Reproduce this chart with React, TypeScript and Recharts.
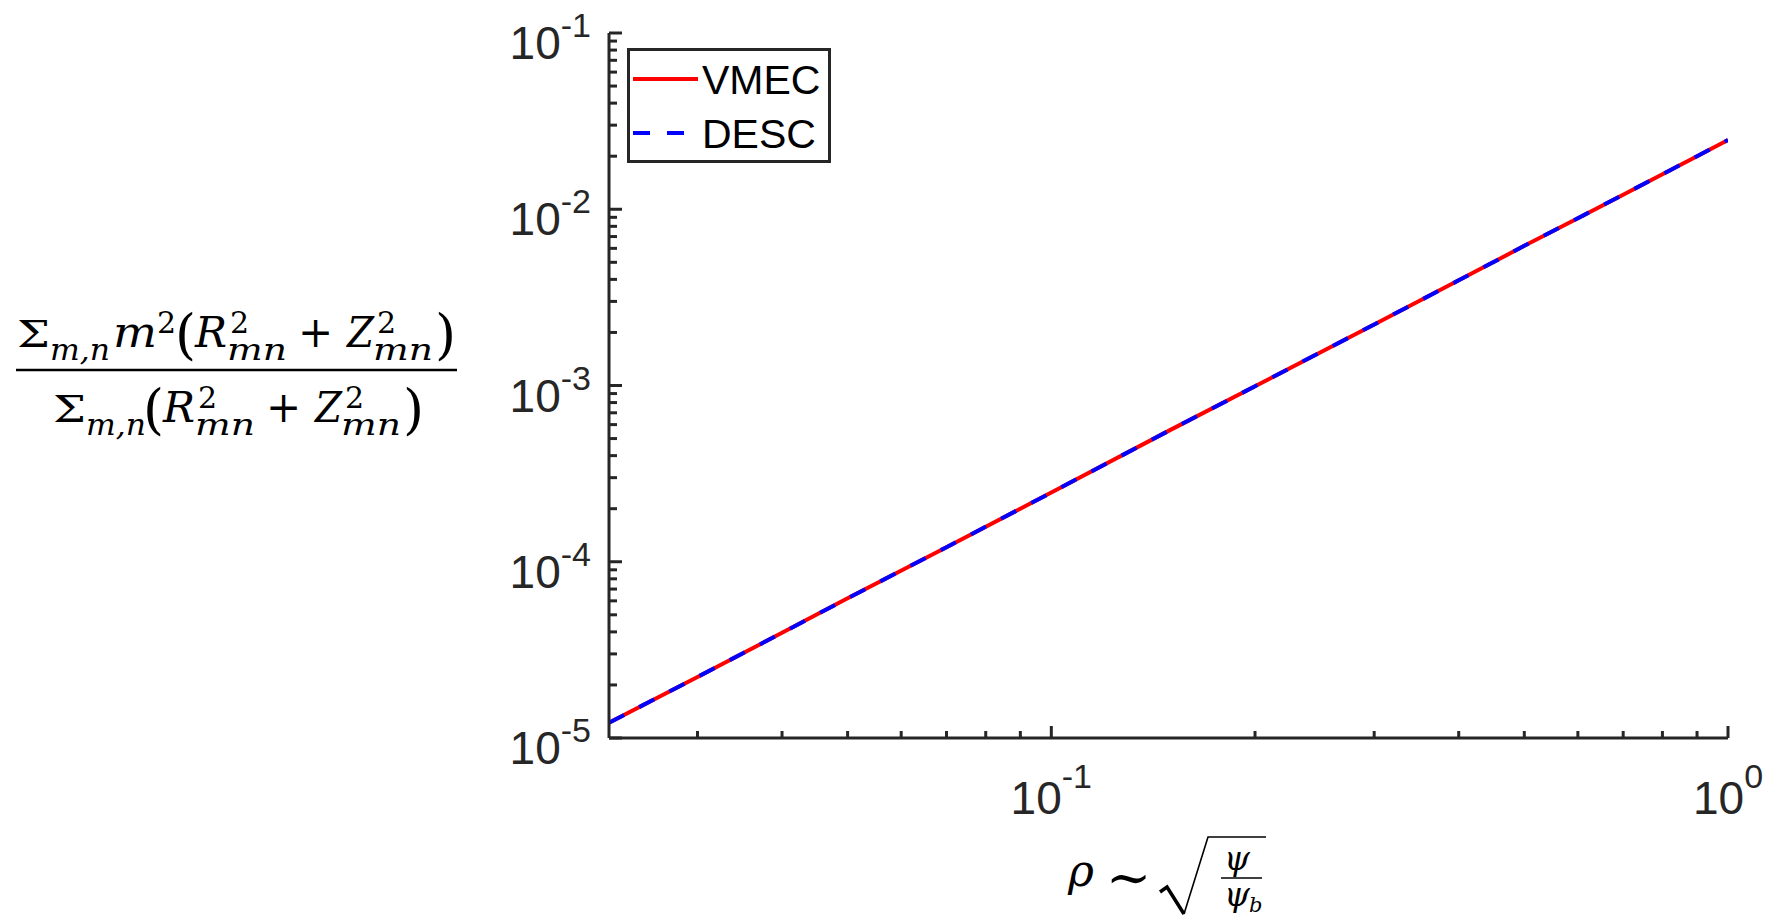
import React from 'react'
import { LineChart, Line, XAxis, YAxis, Legend } from 'recharts'

// ─── Data ─────────────────────────────────────────────────────────────────────

const RHO = [0.0222, 0.03, 0.04, 0.05, 0.07, 0.1, 0.15, 0.2, 0.3, 0.4, 0.5, 0.6, 0.7, 0.8, 0.9, 1.0]
const VMEC = [1.22e-5, 2.22e-5, 3.95e-5, 6.2e-5, 1.21e-4, 2.47e-4, 5.6e-4, 9.9e-4, 2.22e-3, 3.95e-3, 6.2e-3, 8.9e-3, 1.21e-2, 1.58e-2, 2.0e-2, 2.47e-2]
const DESC = [1.22e-5, 2.22e-5, 3.95e-5, 6.2e-5, 1.21e-4, 2.47e-4, 5.6e-4, 9.9e-4, 2.22e-3, 3.95e-3, 6.2e-3, 8.9e-3, 1.21e-2, 1.58e-2, 2.0e-2, 2.47e-2]

// ─── Ticks ────────────────────────────────────────────────────────────────────

const X_MAJOR = [0.1, 1]
const X_EXP = ['-1', '0']
const X_MINOR = [0.03, 0.04, 0.05, 0.06, 0.07, 0.08, 0.09, 0.2, 0.3, 0.4, 0.5, 0.6, 0.7, 0.8, 0.9]
const Y_MAJOR = [1e-5, 1e-4, 1e-3, 1e-2, 1e-1]
const Y_EXP = ['-5', '-4', '-3', '-2', '-1']
const MINOR_STEPS = [2, 3, 4, 5, 6, 7, 8, 9]

const X_TICKS = [...X_MINOR, ...X_MAJOR].sort((a, b) => a - b)
const Y_TICKS = [
  ...Y_MAJOR,
  ...Y_MAJOR.slice(0, -1).flatMap((m) => MINOR_STEPS.map((s) => s * m)),
].sort((a, b) => a - b)

const data = RHO.map((rho, i) => ({ rho, vmec: VMEC[i], desc: DESC[i] }))

// ─── Style ────────────────────────────────────────────────────────────────────

const W = 1765
const H = 917
const AXIS = '#262626'
const SANS = '"Liberation Sans", Arial, sans-serif'
const MATH = '"DejaVu Serif", serif'

const majorIndex = (v: number, majors: number[]) =>
  majors.findIndex((m) => Math.abs(v / m - 1) < 1e-6)

function XTick({ x, y, payload }: any) {
  const i = majorIndex(payload.value, X_MAJOR)
  const len = i >= 0 ? 12 : 7
  return (
    <g>
      <line x1={x} y1={y} x2={x} y2={y - len} stroke={AXIS} strokeWidth={3} />
      {i >= 0 && (
        <text x={x} y={y + 76} textAnchor="middle" fill={AXIS} fontFamily={SANS} fontSize={46}>
          10<tspan dy={-26} fontSize={34}>{X_EXP[i]}</tspan>
        </text>
      )}
    </g>
  )
}

function YTick({ x, y, payload }: any) {
  const i = majorIndex(payload.value, Y_MAJOR)
  const len = i >= 0 ? 13 : 8
  return (
    <g>
      <line x1={x} y1={y} x2={x + len} y2={y} stroke={AXIS} strokeWidth={3} />
      {i >= 0 && (
        <text x={x - 18} y={y + 26} textAnchor="end" fill={AXIS} fontFamily={SANS} fontSize={46}>
          10<tspan dy={-22} fontSize={34}>{Y_EXP[i]}</tspan>
        </text>
      )}
    </g>
  )
}

const LEGEND_ORDER = ['vmec', 'desc']
const LEGEND_DASH: Record<string, string | undefined> = { vmec: undefined, desc: '17 17' }

function LegendBox({ payload }: any) {
  const items = [...(payload ?? [])].sort(
    (a: any, b: any) => LEGEND_ORDER.indexOf(a.dataKey) - LEGEND_ORDER.indexOf(b.dataKey),
  )
  return (
    <svg width={204} height={115} style={{ display: 'block' }}>
      <rect x={1.5} y={1.5} width={201} height={112} fill="#fff" stroke={AXIS} strokeWidth={3} />
      {items.map((entry: any, i: number) => {
        const cy = 31 + i * 54
        return (
          <g key={entry.dataKey}>
            <line x1={6} y1={cy} x2={71} y2={cy} stroke={entry.color} strokeWidth={4}
              strokeDasharray={LEGEND_DASH[entry.dataKey]} />
            <text x={75} y={cy + 15} fontFamily={SANS} fontSize={41} fill="#000">{entry.value}</text>
          </g>
        )
      })}
    </svg>
  )
}

// ─── Axis titles ──────────────────────────────────────────────────────────────

const IT = { fontStyle: 'italic' as const }
const SUB = 30
const BIG = 42
const PAREN = 54

// one row of the fraction; scripts are stacked with absolute tspan positions
function FracRow({ x0, base, withM }: { x0: number; base: number; withM: boolean }) {
  const sup = base - 14
  const sub = base + 13
  const dx = withM ? x0 : x0 - 68
  return (
    <text fontFamily={MATH} fill="#000">
      <tspan x={x0} y={base} fontSize={38} textLength={33} lengthAdjust="spacingAndGlyphs">Σ</tspan>
      <tspan x={x0 + 33} y={sub} fontSize={SUB} textLength={60} lengthAdjust="spacingAndGlyphs" {...IT}>m,n</tspan>
      {withM && (
        <>
          <tspan x={x0 + 96} y={base} fontSize={BIG} textLength={44} lengthAdjust="spacingAndGlyphs" {...IT}>m</tspan>
          <tspan x={x0 + 140} y={sup} fontSize={SUB}>2</tspan>
        </>
      )}
      <tspan x={dx + 158} y={base + 6} fontSize={PAREN}>(</tspan>
      <tspan x={dx + 178} y={base} fontSize={BIG} textLength={32} lengthAdjust="spacingAndGlyphs" {...IT}>R</tspan>
      <tspan x={dx + 213} y={sup} fontSize={SUB}>2</tspan>
      <tspan x={dx + 210} y={sub} fontSize={SUB} textLength={60} lengthAdjust="spacingAndGlyphs" {...IT}>mn</tspan>
      <tspan x={dx + 281} y={base} fontSize={BIG}>+</tspan>
      <tspan x={dx + 330} y={base} fontSize={BIG} textLength={27} lengthAdjust="spacingAndGlyphs" {...IT}>Z</tspan>
      <tspan x={dx + 360} y={sup} fontSize={SUB}>2</tspan>
      <tspan x={dx + 356} y={sub} fontSize={SUB} textLength={60} lengthAdjust="spacingAndGlyphs" {...IT}>mn</tspan>
      <tspan x={dx + 418} y={base + 6} fontSize={PAREN}>)</tspan>
    </text>
  )
}

function Frac() {
  return (
    <g>
      <FracRow x0={17} base={347} withM />
      <line x1={16} y1={370} x2={457} y2={370} stroke="#000" strokeWidth={2.5} />
      <FracRow x0={53} base={422} withM={false} />
    </g>
  )
}

function RhoTitle() {
  return (
    <g>
      <text fontFamily={MATH} fill="#000">
        <tspan x={1068} y={886} fontSize={44} {...IT}>ρ</tspan>
        <tspan x={1106} y={896} fontSize={54}>∼</tspan>
      </text>
      {/* radical sign */}
      <path d="M1160,892 L1167,887 L1184,914" fill="none" stroke="#000" strokeWidth={3.5} />
      <path d="M1184,914 L1208,837 L1266,837" fill="none" stroke="#000" strokeWidth={1.6} />
      <text x={1224} y={870} fontFamily={MATH} fontSize={33} fill="#000" {...IT}>ψ</text>
      <line x1={1221} y1={878} x2={1262} y2={878} stroke="#000" strokeWidth={1.6} />
      <text fontFamily={MATH} fill="#000" {...IT}>
        <tspan x={1224} y={906} fontSize={33}>ψ</tspan>
        <tspan x={1249} y={912} fontSize={21}>b</tspan>
      </text>
    </g>
  )
}

// ─── Chart ────────────────────────────────────────────────────────────────────

export default function App() {
  return (
    <div style={{ position: 'absolute', left: 0, top: 0, width: W, height: H, background: '#fff' }}>
      <LineChart width={W} height={H} data={data} margin={{ top: 33, right: 37, bottom: 0, left: 0 }}>
        <XAxis
          dataKey="rho"
          type="number"
          scale="log"
          domain={[0.0222, 1]}
          allowDataOverflow
          ticks={X_TICKS}
          interval={0}
          height={179}
          tickSize={0}
          tickMargin={0}
          tickLine={false}
          tick={<XTick />}
          axisLine={{ stroke: AXIS, strokeWidth: 3 }}
        />
        <YAxis
          type="number"
          scale="log"
          domain={[1e-5, 1e-1]}
          allowDataOverflow
          ticks={Y_TICKS}
          interval={0}
          width={609}
          tickSize={0}
          tickMargin={0}
          tickLine={false}
          tick={<YTick />}
          axisLine={{ stroke: AXIS, strokeWidth: 3 }}
        />
        <Legend
          layout="vertical"
          align="center"
          verticalAlign="middle"
          wrapperStyle={{ left: 627, top: 48, width: 204, height: 115 }}
          content={<LegendBox />}
        />
        <Line type="linear" dataKey="vmec" name="VMEC" stroke="#ff0000" strokeWidth={4}
          dot={false} activeDot={false} isAnimationActive={false} />
        <Line type="linear" dataKey="desc" name="DESC" stroke="#0000ff" strokeWidth={4}
          strokeDasharray="17 17" dot={false} activeDot={false} isAnimationActive={false} />
      </LineChart>
      <svg width={W} height={H} style={{ position: 'absolute', left: 0, top: 0, pointerEvents: 'none' }}>
        <Frac />
        <RhoTitle />
      </svg>
    </div>
  )
}
